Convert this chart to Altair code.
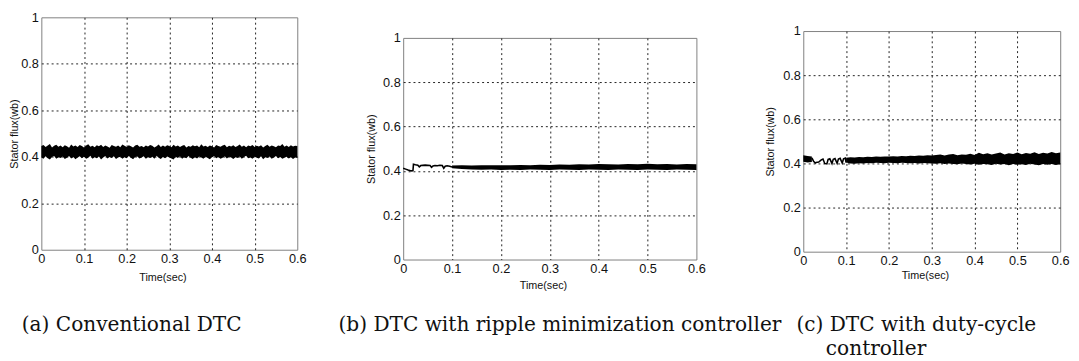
import altair as alt
import pandas as pd

# ---------------- data ----------------
T61 = [0.00, 0.01, 0.02, 0.03, 0.04, 0.05, 0.06, 0.07, 0.08, 0.09,
       0.10, 0.11, 0.12, 0.13, 0.14, 0.15, 0.16, 0.17, 0.18, 0.19,
       0.20, 0.21, 0.22, 0.23, 0.24, 0.25, 0.26, 0.27, 0.28, 0.29,
       0.30, 0.31, 0.32, 0.33, 0.34, 0.35, 0.36, 0.37, 0.38, 0.39,
       0.40, 0.41, 0.42, 0.43, 0.44, 0.45, 0.46, 0.47, 0.48, 0.49,
       0.50, 0.51, 0.52, 0.53, 0.54, 0.55, 0.56, 0.57, 0.58, 0.59, 0.60]

T121 = [0.000, 0.005, 0.010, 0.015, 0.020, 0.025, 0.030, 0.035, 0.040, 0.045,
        0.050, 0.055, 0.060, 0.065, 0.070, 0.075, 0.080, 0.085, 0.090, 0.095,
        0.100, 0.105, 0.110, 0.115, 0.120, 0.125, 0.130, 0.135, 0.140, 0.145,
        0.150, 0.155, 0.160, 0.165, 0.170, 0.175, 0.180, 0.185, 0.190, 0.195,
        0.200, 0.205, 0.210, 0.215, 0.220, 0.225, 0.230, 0.235, 0.240, 0.245,
        0.250, 0.255, 0.260, 0.265, 0.270, 0.275, 0.280, 0.285, 0.290, 0.295,
        0.300, 0.305, 0.310, 0.315, 0.320, 0.325, 0.330, 0.335, 0.340, 0.345,
        0.350, 0.355, 0.360, 0.365, 0.370, 0.375, 0.380, 0.385, 0.390, 0.395,
        0.400, 0.405, 0.410, 0.415, 0.420, 0.425, 0.430, 0.435, 0.440, 0.445,
        0.450, 0.455, 0.460, 0.465, 0.470, 0.475, 0.480, 0.485, 0.490, 0.495,
        0.500, 0.505, 0.510, 0.515, 0.520, 0.525, 0.530, 0.535, 0.540, 0.545,
        0.550, 0.555, 0.560, 0.565, 0.570, 0.575, 0.580, 0.585, 0.590, 0.595,
        0.600]

# (a) conventional DTC: upper / lower envelope of the ripple band
A_HI = [0.446, 0.451, 0.442, 0.449, 0.455, 0.440, 0.447, 0.452, 0.443, 0.448,
        0.441, 0.450, 0.445, 0.439, 0.453, 0.444, 0.448, 0.442, 0.451, 0.446,
        0.440, 0.449, 0.454, 0.443, 0.447, 0.441, 0.450, 0.445, 0.452, 0.442,
        0.448, 0.444, 0.439, 0.451, 0.446, 0.443, 0.449, 0.441, 0.453, 0.447,
        0.442, 0.450, 0.445, 0.440, 0.448, 0.452, 0.443, 0.446, 0.441, 0.449,
        0.444, 0.451, 0.447, 0.440, 0.445, 0.453, 0.442, 0.448, 0.443, 0.450,
        0.446, 0.441, 0.452, 0.444, 0.449, 0.442, 0.447, 0.451, 0.440, 0.446,
        0.443, 0.450, 0.445, 0.448, 0.441, 0.454, 0.444, 0.447, 0.442, 0.449,
        0.445, 0.440, 0.451, 0.446, 0.443, 0.448, 0.452, 0.441, 0.447, 0.444,
        0.450, 0.442, 0.446, 0.453, 0.443, 0.448, 0.441, 0.449, 0.445, 0.451,
        0.442, 0.447, 0.444, 0.450, 0.440, 0.446, 0.452, 0.443, 0.448, 0.445,
        0.441, 0.449, 0.446, 0.455, 0.443, 0.448, 0.442, 0.450, 0.444, 0.447,
        0.446]
A_LO = [0.397, 0.391, 0.402, 0.394, 0.388, 0.399, 0.403, 0.392, 0.398, 0.395,
        0.401, 0.390, 0.396, 0.403, 0.393, 0.399, 0.389, 0.397, 0.402, 0.394,
        0.400, 0.392, 0.396, 0.404, 0.391, 0.398, 0.394, 0.401, 0.388, 0.397,
        0.403, 0.393, 0.399, 0.395, 0.402, 0.390, 0.397, 0.400, 0.392, 0.398,
        0.394, 0.403, 0.396, 0.389, 0.399, 0.401, 0.393, 0.397, 0.402, 0.391,
        0.398, 0.395, 0.400, 0.392, 0.404, 0.396, 0.390, 0.399, 0.394, 0.401,
        0.397, 0.393, 0.388, 0.400, 0.395, 0.402, 0.391, 0.398, 0.394, 0.403,
        0.396, 0.390, 0.399, 0.393, 0.401, 0.397, 0.392, 0.400, 0.395, 0.389,
        0.398, 0.403, 0.394, 0.399, 0.391, 0.396, 0.402, 0.393, 0.400, 0.397,
        0.390, 0.398, 0.395, 0.401, 0.392, 0.399, 0.404, 0.394, 0.397, 0.391,
        0.400, 0.396, 0.393, 0.402, 0.389, 0.398, 0.395, 0.401, 0.392, 0.397,
        0.403, 0.394, 0.399, 0.391, 0.396, 0.400, 0.393, 0.398, 0.390, 0.397,
        0.395]

# (b) ripple minimization controller: start-up trace, then narrow band
B_LINE_T = [0.000, 0.005, 0.010, 0.015, 0.018, 0.020, 0.021, 0.025, 0.030, 0.033,
            0.036, 0.040, 0.045, 0.050, 0.055, 0.058, 0.061, 0.065, 0.070, 0.075,
            0.080, 0.083, 0.086, 0.090, 0.095, 0.100]
B_LINE_Y = [0.412, 0.408, 0.404, 0.401, 0.400, 0.402, 0.430, 0.428, 0.426, 0.418,
            0.424, 0.425, 0.426, 0.425, 0.424, 0.416, 0.422, 0.424, 0.423, 0.425,
            0.424, 0.412, 0.421, 0.423, 0.421, 0.418]
B_BAND_T = [0.10, 0.12, 0.14, 0.16, 0.18, 0.20, 0.22, 0.24, 0.26, 0.28,
            0.30, 0.32, 0.34, 0.36, 0.38, 0.40, 0.42, 0.44, 0.46, 0.48,
            0.50, 0.52, 0.54, 0.56, 0.58, 0.60]
B_HI = [0.424, 0.425, 0.424, 0.426, 0.425, 0.426, 0.425, 0.427, 0.426, 0.428,
        0.427, 0.429, 0.428, 0.430, 0.429, 0.431, 0.430, 0.429, 0.431, 0.430,
        0.432, 0.430, 0.431, 0.429, 0.431, 0.430]
B_LO = [0.412, 0.408, 0.406, 0.405, 0.406, 0.404, 0.405, 0.404, 0.406, 0.405,
        0.404, 0.406, 0.405, 0.404, 0.406, 0.405, 0.404, 0.406, 0.405, 0.404,
        0.406, 0.405, 0.404, 0.406, 0.405, 0.404]

# (c) duty-cycle controller: start band, saw-tooth trace, then widening band
C_LINE_T = [0.020, 0.024, 0.028, 0.030, 0.036, 0.042, 0.046, 0.050, 0.055, 0.058,
            0.062, 0.067, 0.070, 0.074, 0.079, 0.082, 0.086, 0.091, 0.094, 0.098, 0.100]
C_LINE_Y = [0.425, 0.410, 0.402, 0.404, 0.406, 0.416, 0.420, 0.400, 0.398, 0.418,
            0.421, 0.400, 0.419, 0.422, 0.401, 0.420, 0.423, 0.402, 0.421, 0.424, 0.404]
C_BAND_T = [0.00, 0.01, 0.02] + T61[10:]
C_BAND_SEG = ["s1"] * 3 + ["s2"] * 51
C_HI = [0.437, 0.434, 0.432,
        0.426, 0.428, 0.427, 0.429, 0.428, 0.430, 0.429, 0.431, 0.430, 0.432,
        0.431, 0.433, 0.432, 0.434, 0.433, 0.435, 0.434, 0.436, 0.435, 0.437, 0.436,
        0.438, 0.441, 0.436, 0.440, 0.443, 0.437, 0.441, 0.439, 0.444, 0.438,
        0.448, 0.442, 0.446, 0.440, 0.445, 0.449, 0.441, 0.446, 0.443, 0.450,
        0.442, 0.447, 0.444, 0.451, 0.443, 0.448, 0.445, 0.452, 0.446, 0.449]
C_LO = [0.408, 0.404, 0.406,
        0.404, 0.400, 0.399, 0.401, 0.400, 0.402, 0.401, 0.403, 0.402, 0.401,
        0.403, 0.402, 0.401, 0.403, 0.402, 0.401, 0.402, 0.400, 0.402, 0.401, 0.400,
        0.399, 0.401, 0.397, 0.400, 0.398, 0.396, 0.400, 0.397, 0.395, 0.399,
        0.394, 0.398, 0.396, 0.393, 0.399, 0.395, 0.397, 0.392, 0.398, 0.394,
        0.396, 0.393, 0.399, 0.395, 0.392, 0.397, 0.394, 0.398, 0.393, 0.396]

X_TICKS = [0, 0.1, 0.2, 0.3, 0.4, 0.5, 0.6]
Y_TICKS = [0, 0.2, 0.4, 0.6, 0.8, 1]
X_TITLE = "Time(sec)"
Y_TITLE = "Stator flux(wb)"
CAPTIONS = ["(a) Conventional DTC",
            "(b) DTC with ripple minimization controller",
            "(c) DTC with duty-cycle",
            "controller"]

# ---------------- helpers ----------------
GRID_X = {"condition": {"test": "datum.value <= 0.0001 || datum.value >= 0.5999", "value": 0}, "value": 1}
GRID_Y = {"condition": {"test": "datum.value <= 0.0001 || datum.value >= 0.9999", "value": 0}, "value": 1}


def xenc(w, xty):
    return alt.X("t:Q", scale=alt.Scale(domain=[0, 0.6], nice=False, zero=False),
                 axis=alt.Axis(values=X_TICKS, format=".1~f", title=X_TITLE,
                               titleX=w / 2 - 7, titleY=xty, titleBaseline="middle",
                               labelFlush=False, labelOverlap=False, labelPadding=3,
                               gridOpacity=GRID_X))


def yenc(field, ytx):
    return alt.Y(field + ":Q", scale=alt.Scale(domain=[0, 1], nice=False),
                 axis=alt.Axis(values=Y_TICKS, format=".1~f", title=Y_TITLE,
                               titleX=ytx, titleBaseline="middle",
                               labelPadding=3, labelOverlap=False,
                               gridOpacity=GRID_Y))


def band(df, w, xty, ytx, detail=None):
    enc = dict(x=xenc(w, xty), y=yenc("lo", ytx), y2=alt.Y2("hi:Q"))
    if detail:
        enc["detail"] = alt.Detail(detail + ":N")
    return alt.Chart(df).mark_area(color="black", opacity=1).encode(**enc)


def trace(df, w, xty, ytx):
    return alt.Chart(df).mark_line(color="black", strokeWidth=1.6).encode(
        x=xenc(w, xty), y=yenc("y", ytx))


def column(panel, w, top):
    # invisible spacer that sets the vertical start of the panel
    spacer = alt.Chart(pd.DataFrame({"k": [0]})).mark_point(opacity=0, size=1).encode(
        x=alt.value(w / 2), y=alt.value(top / 2)
    ).properties(width=w + 10, height=top, view=alt.ViewBackground(stroke="transparent"))
    return alt.vconcat(spacer, panel, spacing=0)


# ---------------- panels ----------------
WA, HA = 261, 237
WB, HB = 299, 226
WC, HC = 262, 225

pa = band(pd.DataFrame({"t": T121, "hi": A_HI, "lo": A_LO}), WA, 28, -27).properties(
    width=WA, height=HA)

pb = alt.layer(
    band(pd.DataFrame({"t": B_BAND_T, "hi": B_HI, "lo": B_LO}), WB, 27, -32),
    trace(pd.DataFrame({"t": B_LINE_T, "y": B_LINE_Y}), WB, 27, -32),
).properties(width=WB, height=HB)

pc = alt.layer(
    band(pd.DataFrame({"t": C_BAND_T, "hi": C_HI, "lo": C_LO, "seg": C_BAND_SEG}),
         WC, 24, -33, detail="seg"),
    trace(pd.DataFrame({"t": C_LINE_T, "y": C_LINE_Y}), WC, 24, -33),
).properties(width=WC, height=HC)

row1 = alt.concat(column(pa, WA, 1), column(pb, WB, 22), column(pc, WC, 15),
                  columns=3, align="none", spacing=58, bounds="full")

# ---------------- captions ----------------
cap_base = alt.Chart(pd.DataFrame({"k": [0]}))


def cap(txt, x, y):
    return cap_base.mark_text(align="left", baseline="middle", font="DejaVu Serif",
                              fontSize=20.5, color="#111").encode(
        x=alt.value(x), y=alt.value(y), text=alt.value(txt))


captions = alt.layer(
    cap(CAPTIONS[0], -20, 33),
    cap(CAPTIONS[1], 303, 33),
    cap(CAPTIONS[2], 770, 33),
    cap(CAPTIONS[3], 800, 57),
).properties(width=1000, height=50, view=alt.ViewBackground(stroke="transparent"))

chart = alt.concat(row1, captions, columns=1, align="none", spacing=0,
                   bounds="full").properties(
    padding={"top": -4, "left": 0, "right": 0, "bottom": 0}
).configure_view(
    stroke="#808080", strokeWidth=1
).configure_axis(
    domain=False, ticks=False,
    grid=True, gridColor="#222", gridDash=[2, 3], gridWidth=1,
    labelFont="Liberation Sans", labelFontSize=13, labelColor="#111",
    titleFont="Liberation Sans", titleFontSize=11, titleFontWeight="normal", titleColor="#111",
)

chart.save("out.html", embed_options={"renderer": "svg", "actions": False})
